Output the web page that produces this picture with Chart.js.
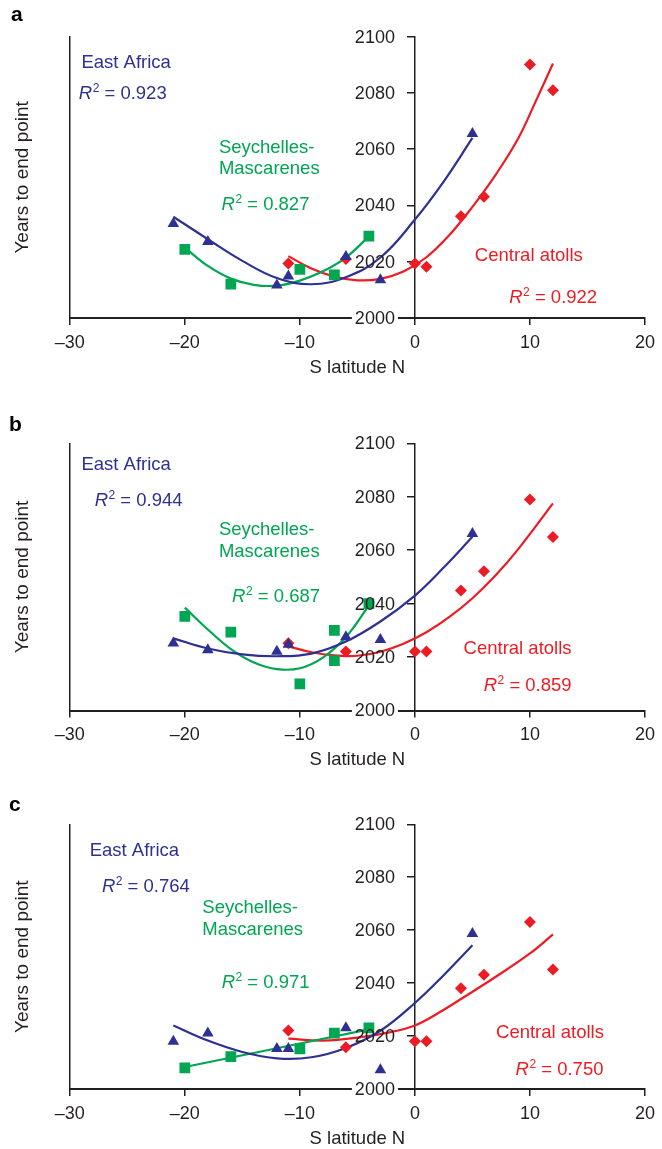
<!DOCTYPE html>
<html>
<head>
<meta charset="utf-8">
<script src="https://cdn.jsdelivr.net/npm/chart.js@4.4.1/dist/chart.umd.min.js"></script>
<style>
  html, body { margin: 0; padding: 0; background: #fff; overflow: hidden; }
  #wrap { position: relative; width: 662px; height: 1149px; }
  canvas { position: absolute; left: 0; }
</style>
</head>
<body>
<div id="wrap">
  <canvas id="panelA" width="662" height="395" style="top:0px"></canvas>
  <canvas id="panelB" width="662" height="385" style="top:395px"></canvas>
  <canvas id="panelC" width="662" height="372" style="top:780px"></canvas>
</div>
<script>
// latitudes of the sites (S negative, N positive)
const eaLat = [-21, -18, -12, -11, -6, -3, 5];
const smLatA = [-20, -16, -10, -7, -4];
const smLatB = [-20, -16, -10, -7, -7, -4];
const smLatC = [-20, -16, -10, -7, -4];
const caLat = [-11, -6, 0, 1, 4, 6, 10, 12];

// years to end point, panel a
const eaYearA = [2033.5, 2027.1, 2011.7, 2014.9, 2021.8, 2013.5, 2065.5];
const smYearA = [2024.4, 2012, 2017.3, 2015.3, 2029.1];
const caYearA = [2019.4, 2021, 2019.4, 2018.2, 2036.2, 2043.1, 2090.1, 2081];
// panel b
const eaYearB = [2025.2, 2022.7, 2022.1, 2024.7, 2027.5, 2026.5, 2066.2];
const smYearB = [2035.2, 2029.3, 2010, 2030, 2018.7, 2040];
const caYearB = [2025.2, 2022.1, 2022.1, 2022.1, 2044.9, 2052.1, 2079, 2064.9];
// panel c
const eaYearC = [2018, 2021.1, 2015.2, 2015.2, 2023.1, 2007.2, 2058.7];
const smYearC = [2008, 2012.2, 2015.2, 2021.1, 2023.1];
const caYearC = [2022.1, 2015.8, 2018, 2018, 2038.1, 2043.2, 2063.1, 2045.1];

// trend lines
const eaFitLatA = [-21, -18, -15, -12, -9, -6, -3, 0, 2.5, 5];
const eaFitYearA = [2036, 2028, 2020.3, 2014.2, 2012, 2014.5, 2021.5, 2035, 2048.5, 2064];
const smFitLatA = [-20, -18, -16, -14, -12, -10, -8, -6, -4];
const smFitYearA = [2025, 2018.5, 2014, 2011.8, 2011.5, 2013.3, 2016.6, 2021.5, 2029];
const caFitLatA = [-11, -9, -7, -5, -3, -1, 1, 3, 5, 7, 9, 10.5, 12];
const caFitYearA = [2022, 2017.6, 2014.7, 2013.4, 2013.9, 2016.5, 2021.6, 2029.5, 2039.5, 2050.8, 2064, 2077, 2090.5];

const eaFitLatB = [-21, -18, -15, -12, -9, -6, -3, 0, 2.5, 5];
const eaFitYearB = [2027, 2023.2, 2021, 2020.3, 2021.3, 2025.8, 2033.3, 2043, 2053.5, 2065];
const smFitLatB = [-20, -18, -16, -14, -12, -10, -8, -6, -4];
const smFitYearB = [2038.5, 2030.3, 2023, 2018, 2015.5, 2015.8, 2019.8, 2027.5, 2039.3];
const caFitLatB = [-11, -9, -7, -5, -3, -1, 1, 3, 5, 7, 9, 12];
const caFitYearB = [2024, 2021.8, 2020.6, 2020.5, 2022, 2025, 2029.3, 2035, 2042, 2050.5, 2060.5, 2077.5];

const eaFitLatC = [-21, -18, -15, -12, -9, -6, -3, 0, 2.5, 5];
const eaFitYearC = [2024, 2018.3, 2014, 2011.6, 2012, 2015.5, 2022, 2032.5, 2043, 2054.3];
const smFitLatC = [-20, -4];
const smFitYearC = [2008.3, 2022.5];
const caFitLatC = [-11, -8, -5, -2, 0, 2, 4, 7, 10, 12];
const caFitYearC = [2019, 2018.3, 2019.4, 2021.6, 2024, 2028.6, 2034, 2042.3, 2051.2, 2058.4];

// R squared labels
const r2A = ['0.923', '0.827', '0.922'];
const r2B = ['0.944', '0.687', '0.859'];
const r2C = ['0.764', '0.971', '0.750'];

const FONT = "'Liberation Sans', Arial, Helvetica, sans-serif";
const INK = '#231f20';
const BLUE = '#2e3192', GREEN = '#00a651', RED = '#ed1c24';

function pts(xs, ys) {
  return xs.map((x, i) => ({ x: x, y: ys[i] }));
}

// year labels sit left of the axis drawn at latitude 0
const yLabelPlugin = {
  id: 'yLabels',
  afterDatasetsDraw(chart) {
    const { ctx, scales: { x, y } } = chart;
    const x0 = x.getPixelForValue(0) - 20;
    ctx.save();
    ctx.font = '18px ' + FONT;
    ctx.textAlign = 'right';
    ctx.textBaseline = 'middle';
    y.ticks.forEach(t => {
      const py = y.getPixelForValue(t.value);
      const label = String(t.value);
      const w = ctx.measureText(label).width;
      if (t.value === y.min) {
        ctx.fillStyle = '#fff';
        ctx.fillRect(x0 - w - 3, py - 3, w + 6, 6);
      }
      ctx.fillStyle = INK;
      ctx.fillText(label, x0, py + 1);
    });
    ctx.restore();
  }
};

// text on the plot: region names, R2 values, panel letter
const notesPlugin = {
  id: 'notes',
  afterDraw(chart, args, opts) {
    const { ctx, scales: { x, y } } = chart;
    ctx.save();
    ctx.textAlign = 'left';
    ctx.textBaseline = 'alphabetic';
    opts.items.forEach(n => {
      let px = x.getPixelForValue(n.x);
      const py = y.getPixelForValue(n.y);
      ctx.fillStyle = n.color;
      if (n.r2) {
        ctx.font = 'italic 18.5px ' + FONT;
        ctx.fillText('R', px, py);
        px += ctx.measureText('R').width + 0.5;
        ctx.font = '12px ' + FONT;
        ctx.fillText('2', px, py - 7);
        px += ctx.measureText('2').width;
        ctx.font = '18.5px ' + FONT;
        ctx.fillText(' = ' + n.r2, px, py);
      } else {
        ctx.font = '18.5px ' + FONT;
        ctx.fillText(n.text, px, py);
      }
    });
    ctx.font = 'bold 21px ' + FONT;
    ctx.fillStyle = '#000';
    ctx.fillText(opts.letter, opts.letterX, opts.letterY);
    ctx.restore();
  }
};

function panel(id, p) {
  const marks = [
    { data: pts(eaLat, p.ea), pointStyle: 'triangle', pointRadius: 6.7, backgroundColor: BLUE, borderWidth: 0, order: 0 },
    { data: pts(p.smLat, p.sm), pointStyle: 'rect', pointRadius: 7.6, backgroundColor: GREEN, borderWidth: 0, order: 1 },
    { data: pts(caLat, p.ca), pointStyle: 'rectRot', pointRadius: 6, backgroundColor: RED, borderWidth: 0, order: 2 }
  ];
  const fits = [
    [p.eaFit, BLUE], [p.smFit, GREEN], [p.caFit, RED]
  ].map(([f, c], i) => ({
    data: pts(f[0], f[1]), showLine: true, pointRadius: 0, borderColor: c,
    borderWidth: 2.2, tension: 0.4, fill: false, order: 3 + i
  }));

  return new Chart(document.getElementById(id), {
    type: 'scatter',
    data: { datasets: marks.concat(fits) },
    options: {
      responsive: false,
      animation: false,
      devicePixelRatio: 1,
      events: [],
      layout: { padding: { left: 11, right: 13.5, top: p.padTop, bottom: p.padBottom } },
      plugins: {
        legend: { display: false },
        tooltip: { enabled: false },
        notes: { items: p.notes, letter: p.letter, letterX: p.letterX, letterY: p.letterY }
      },
      scales: {
        x: {
          type: 'linear', position: 'bottom', min: -30, max: 20,
          ticks: {
            stepSize: 10, color: INK, padding: 7, maxRotation: 0, autoSkip: false,
            font: { size: 18, family: FONT },
            callback: v => v < 0 ? '\u2013' + Math.abs(v) : String(v)
          },
          grid: { drawOnChartArea: false, tickLength: 7, color: INK, lineWidth: 1.5 },
          border: { display: true, color: INK, width: 2 },
          title: { display: true, text: 'S latitude N', color: INK, font: { size: 18.5, family: FONT }, padding: { top: 0, bottom: 0 } },
          afterFit: s => { s.height = 61; }
        },
        y: {
          type: 'linear', position: { x: 0 }, min: 2000, max: 2100,
          ticks: { stepSize: 20, display: false },
          grid: { drawOnChartArea: false, tickLength: 7, color: INK, lineWidth: 1.5 },
          border: { display: true, color: INK, width: 1.5 }
        },
        yL: {
          type: 'linear', position: 'left', min: 2000, max: 2100,
          ticks: { display: false },
          grid: { display: false, drawTicks: false },
          border: { display: true, color: INK, width: 1.5 },
          title: { display: true, text: 'Years to end point', color: INK, font: { size: 19, family: FONT }, padding: { top: 0, bottom: 36 } }
        }
      }
    },
    plugins: [yLabelPlugin, notesPlugin]
  });
}

panel('panelA', {
  ea: eaYearA, smLat: smLatA, sm: smYearA, ca: caYearA,
  eaFit: [eaFitLatA, eaFitYearA], smFit: [smFitLatA, smFitYearA], caFit: [caFitLatA, caFitYearA],
  padTop: 36.7, padBottom: 16, letter: 'a', letterX: 11, letterY: 20.7,
  notes: [
    { text: 'East Africa', x: -28.99, y: 2088.8, color: BLUE },
    { r2: r2A[0], x: -29.22, y: 2077.7, color: BLUE },
    { text: 'Seychelles-', x: -17.04, y: 2058.5, color: GREEN },
    { text: 'Mascarenes', x: -17.04, y: 2051.2, color: GREEN },
    { r2: r2A[1], x: -16.81, y: 2038.4, color: GREEN },
    { text: 'Central atolls', x: 5.21, y: 2020.3, color: RED },
    { r2: r2A[2], x: 8.2, y: 2005.2, color: RED }
  ]
});

panel('panelB', {
  ea: eaYearB, smLat: smLatB, sm: smYearB, ca: caYearB,
  eaFit: [eaFitLatB, eaFitYearB], smFit: [smFitLatB, smFitYearB], caFit: [caFitLatB, caFitYearB],
  padTop: 48.3, padBottom: 8.5, letter: 'b', letterX: 9, letterY: 35.7,
  notes: [
    { text: 'East Africa', x: -28.99, y: 2090, color: BLUE },
    { r2: r2B[0], x: -27.84, y: 2076.5, color: BLUE },
    { text: 'Seychelles-', x: -17.04, y: 2065.7, color: GREEN },
    { text: 'Mascarenes', x: -17.04, y: 2057.6, color: GREEN },
    { r2: r2B[1], x: -15.89, y: 2040.7, color: GREEN },
    { text: 'Central atolls', x: 4.23, y: 2021.1, color: RED },
    { r2: r2B[2], x: 5.98, y: 2007.4, color: RED }
  ]
});

panel('panelC', {
  ea: eaYearC, smLat: smLatC, sm: smYearC, ca: caYearC,
  eaFit: [eaFitLatC, eaFitYearC], smFit: [smFitLatC, smFitYearC], caFit: [caFitLatC, caFitYearC],
  padTop: 44.3, padBottom: 2, letter: 'c', letterX: 9, letterY: 30.7,
  notes: [
    { text: 'East Africa', x: -28.27, y: 2088, color: BLUE },
    { r2: r2C[0], x: -27.21, y: 2074.5, color: BLUE },
    { text: 'Seychelles-', x: -18.48, y: 2066.4, color: GREEN },
    { text: 'Mascarenes', x: -18.48, y: 2058.2, color: GREEN },
    { r2: r2C[1], x: -16.8, y: 2038, color: GREEN },
    { text: 'Central atolls', x: 7.05, y: 2019.4, color: RED },
    { r2: r2C[2], x: 8.75, y: 2005.3, color: RED }
  ]
});
</script>
</body>
</html>
